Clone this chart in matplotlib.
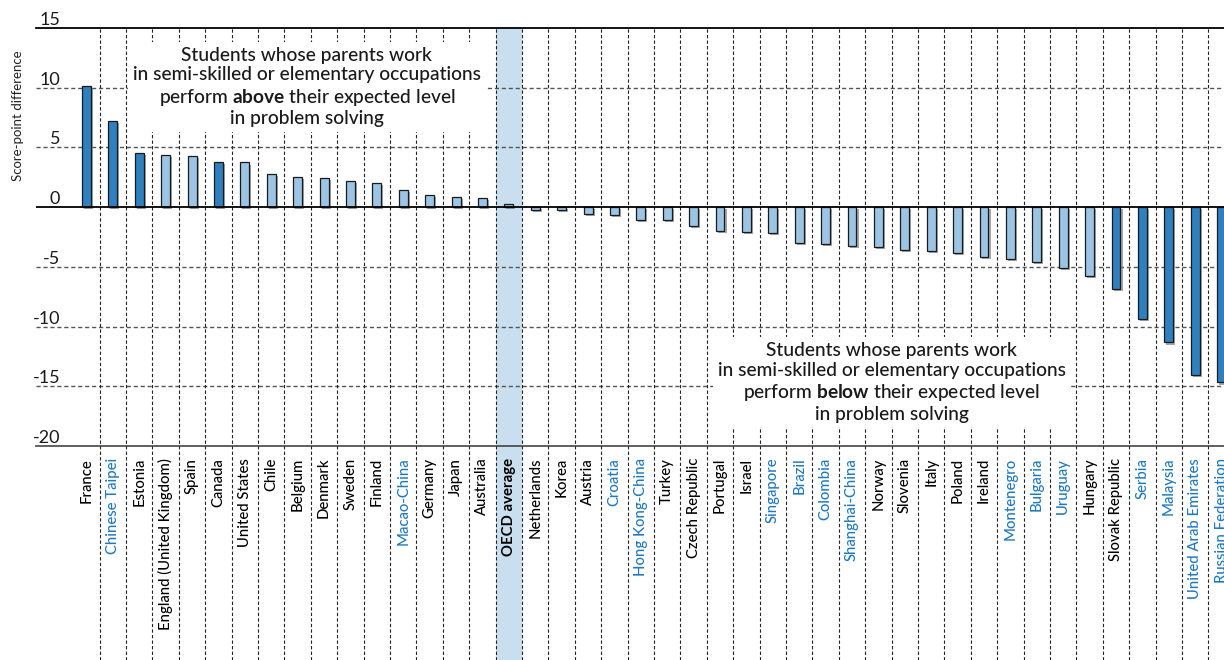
import matplotlib
matplotlib.use("Agg")
import matplotlib.pyplot as plt
import matplotlib.patheffects as pe
from matplotlib.transforms import blended_transform_factory

plt.rcParams['font.family'] = ['Lato', 'DejaVu Sans']
plt.rcParams['mathtext.fontset'] = 'custom'
plt.rcParams['mathtext.rm'] = 'Lato:medium'
plt.rcParams['mathtext.bf'] = 'Lato:bold'

countries = [
    "France", "Chinese Taipei", "Estonia", "England (United Kingdom)", "Spain",
    "Canada", "United States", "Chile", "Belgium", "Denmark", "Sweden", "Finland",
    "Macao-China", "Germany", "Japan", "Australia", "OECD average", "Netherlands",
    "Korea", "Austria", "Croatia", "Hong Kong-China", "Turkey", "Czech Republic",
    "Portugal", "Israel", "Singapore", "Brazil", "Colombia", "Shanghai-China",
    "Norway", "Slovenia", "Italy", "Poland", "Ireland", "Montenegro", "Bulgaria",
    "Uruguay", "Hungary", "Slovak Republic", "Serbia", "Malaysia",
    "United Arab Emirates", "Russian Federation",
]
diff = [
    10.18, 7.2, 4.57, 4.35, 4.32, 3.79, 3.74, 2.81, 2.56, 2.43, 2.2, 2.02,
    1.45, 1.0, 0.87, 0.78, 0.3, -0.2, -0.2, -0.55, -0.67, -1.06, -1.06, -1.6,
    -1.96, -2.04, -2.18, -3.0, -3.1, -3.27, -3.32, -3.58, -3.66, -3.85, -4.16,
    -4.36, -4.58, -5.08, -5.73, -6.84, -9.4, -11.33, -14.07, -14.68,
]
significant = [
    "France", "Chinese Taipei", "Estonia", "Canada", "Slovak Republic",
    "Serbia", "Malaysia", "United Arab Emirates", "Russian Federation",
]
partners = [
    "Chinese Taipei", "Macao-China", "Croatia", "Hong Kong-China", "Singapore",
    "Brazil", "Colombia", "Shanghai-China", "Montenegro", "Bulgaria", "Uruguay",
    "Serbia", "Malaysia", "United Arab Emirates", "Russian Federation",
]
yticks = [15, 10, 5, 0, -5, -10, -15, -20]

dark = '#2e80c0'
light = '#9cc4e4'
label_blue = '#1f78c1'
band = '#c9dff0'

fig = plt.figure(figsize=(12.24, 6.6), dpi=100)
ax = fig.add_axes([36 / 1224, 214 / 660, 1212 / 1224, 418 / 660])
ax.set_xlim(-1.91, 44.0)
ax.set_ylim(-20, 15)

x = list(range(len(countries)))
below = -214 / 418  # down to figure bottom, in axes fraction
trans = blended_transform_factory(ax.transData, ax.transAxes)

# OECD average column
oecd = countries.index("OECD average")
ax.add_patch(plt.Rectangle((oecd - 0.5, below), 1, 1 - below, transform=trans,
                           color=band, lw=0, zorder=0, clip_on=False))

# grid
for y in [10, 5, -5, -10, -15]:
    ax.axhline(y, color='#555555', lw=1.0, ls=(0, (3, 2)), zorder=1)
ax.vlines([i + 0.5 for i in x[:-1]], below, 1, transform=trans, color='#222222',
          lw=0.8, ls=(0, (3, 2)), zorder=1, clip_on=False)

colors = [dark if c in significant else light for c in countries]
bars = ax.bar(x, diff, width=0.34, color=colors, edgecolor='#1a1a1a', lw=0.9, zorder=3)
for b in bars:
    b.set_path_effects([pe.SimplePatchShadow(offset=(1.5, -1.5), shadow_rgbFace='#808080', alpha=0.7),
                        pe.Normal()])

ax.axhline(0, color='black', lw=1.3, zorder=4)
for s in ['left', 'right']:
    ax.spines[s].set_visible(False)
ax.spines['top'].set_linewidth(1.3)
ax.spines['bottom'].set_color('#444444')
ax.spines['bottom'].set_linewidth(1.2)

ax.set_yticks(yticks, [str(t) for t in yticks])
ax.tick_params(axis='y', length=0, pad=-17.5, labelsize=13, labelcolor='#1a1a1a')
for lbl in ax.get_yticklabels():
    lbl.set_verticalalignment('bottom')

ax.set_xticks(x, countries, rotation=90, fontsize=10.7)
ax.tick_params(axis='x', length=0, pad=8.5)
for lbl, c in zip(ax.get_xticklabels(), countries):
    lbl.set_verticalalignment('top')
    lbl.set_fontweight('medium')
    if c in partners:
        lbl.set_color(label_blue)
    if c == "OECD average":
        lbl.set_fontweight('bold')

fig.text(18 / 1224, 1 - 116 / 660, "Score-point difference", rotation=90,
         ha='center', va='center', fontsize=9.5, color='#222222')

box = dict(boxstyle='square,pad=0.25', fc='white', ec='none')
ax.text(8.35, 10.06, "Students whose parents work\nin semi-skilled or elementary occupations\n"
        "perform $\\mathbf{above}$ their expected level\nin problem solving",
        ha='center', va='center', multialignment='center', fontsize=13.8,
        fontweight='medium', linespacing=1.2, color='#1a1a1a', bbox=box, zorder=2)
ax.text(30.5, -14.65, "Students whose parents work\nin semi-skilled or elementary occupations\n"
        "perform $\\mathbf{below}$ their expected level\nin problem solving",
        ha='center', va='center', multialignment='center', fontsize=13.8,
        fontweight='medium', linespacing=1.2, color='#1a1a1a', bbox=box, zorder=2)

fig.savefig("out.png", dpi=100)
